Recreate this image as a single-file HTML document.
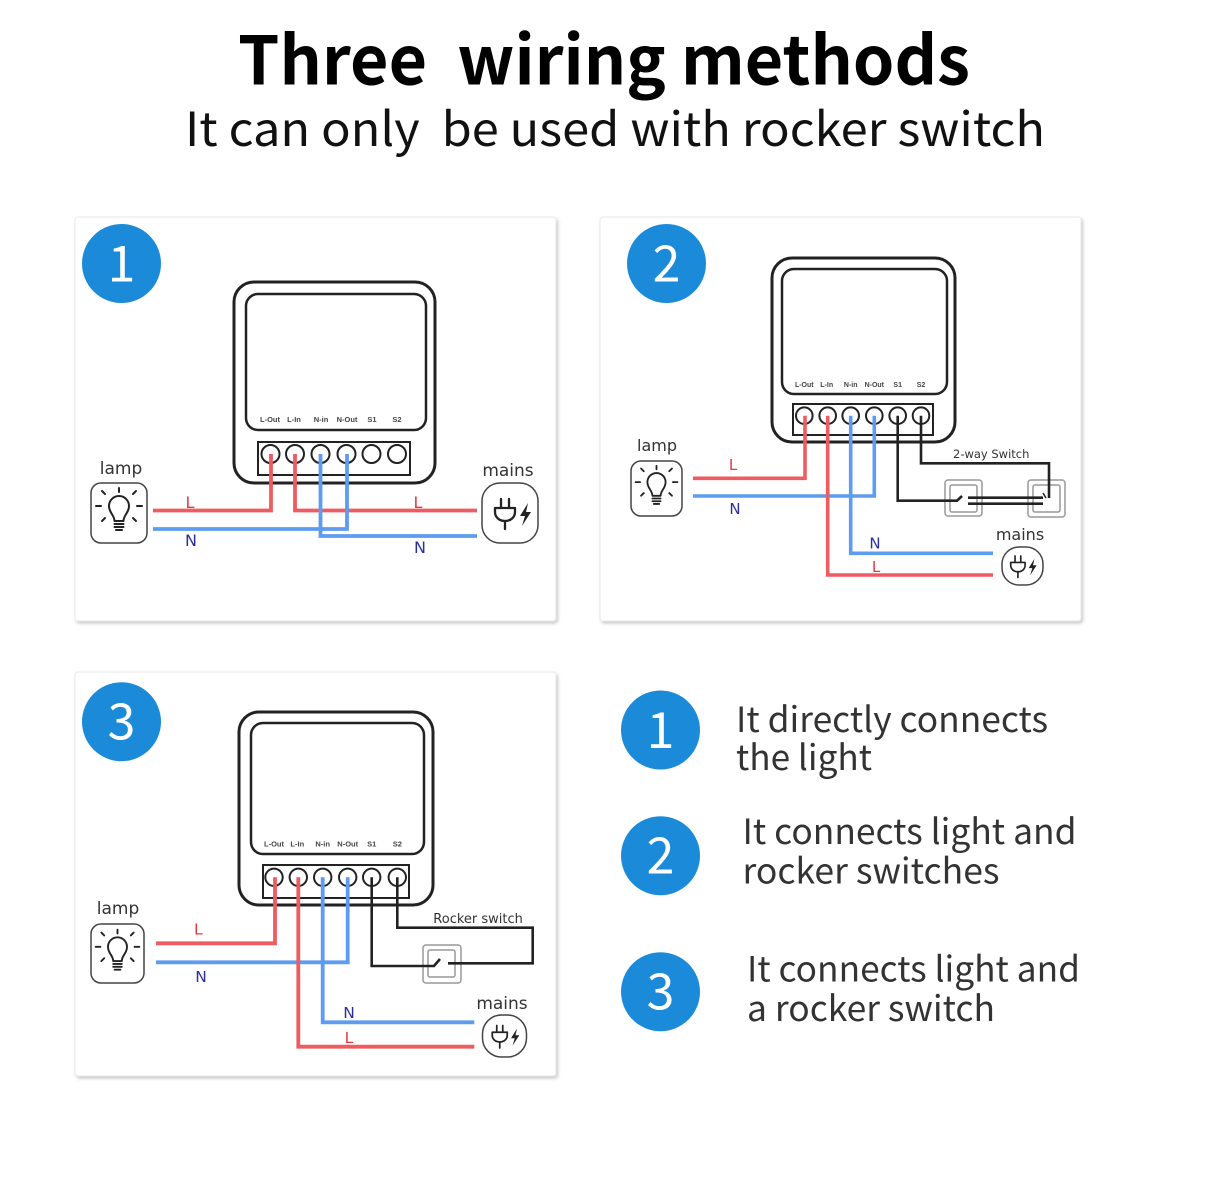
<!DOCTYPE html>
<html><head><meta charset="utf-8"><style>
html,body{margin:0;padding:0;background:#fff;}
svg{display:block;}
</style></head><body>
<svg width="1206" height="1177" viewBox="0 0 1206 1177" xmlns="http://www.w3.org/2000/svg">
<defs>
<filter id="sh" x="-5%" y="-5%" width="110%" height="110%">
<feDropShadow dx="1.5" dy="2" stdDeviation="1.5" flood-color="#000" flood-opacity="0.22"/>
</filter>
<g id="bulb" fill="none" stroke="#222" stroke-width="2" stroke-linecap="round" stroke-linejoin="round">
<path d="M-4.5,8 C-4.5,2 -10,0 -10,-7 A10,10 0 1 1 10,-7 C10,0 4.5,2 4.5,8 Z"/>
<line x1="-4.5" y1="11" x2="4.5" y2="11"/>
<line x1="-4.5" y1="14" x2="4.5" y2="14"/>
<line x1="-3" y1="17" x2="3" y2="17"/>
<line x1="0" y1="-25" x2="0" y2="-21"/>
<line x1="-23" y1="-7" x2="-18" y2="-7"/>
<line x1="18" y1="-7" x2="23" y2="-7"/>
<line x1="-17" y1="-22" x2="-14" y2="-19"/>
<line x1="17" y1="-22" x2="14" y2="-19"/>
<line x1="-17" y1="8" x2="-14" y2="5"/>
<line x1="17" y1="8" x2="14" y2="5"/>
</g>
<g id="plug">
<g fill="none" stroke="#222" stroke-width="2.3" stroke-linecap="round" stroke-linejoin="round">
<line x1="-9" y1="-14" x2="-9" y2="-5"/>
<line x1="-1" y1="-14" x2="-1" y2="-5"/>
<path d="M-15,-5 H5 V-1 C5,4 1,8 -5,8 C-11,8 -15,4 -15,-1 Z"/>
<line x1="-5" y1="8" x2="-5" y2="16"/>
</g>
<path d="M18,-10 L10,3 L15,3 L12,13 L21,-1 L16,-1 Z" fill="#222"/>
</g>
</defs>

<!-- Title -->
<text x="238" y="84.5" font-family="'Noto Sans CJK SC','Liberation Sans',sans-serif" font-weight="700" font-size="67" fill="#000" textLength="732" lengthAdjust="spacingAndGlyphs" xml:space="preserve">Three  wiring methods</text>
<text x="185" y="146" font-family="'Noto Sans CJK SC','Liberation Sans',sans-serif" font-weight="400" font-size="47" fill="#111" textLength="860" lengthAdjust="spacingAndGlyphs" xml:space="preserve">It can only  be used with rocker switch</text>

<!-- Cards -->
<rect x="75" y="217" width="481" height="404" rx="3" fill="#fff" stroke="#e9e9e9" stroke-width="1" filter="url(#sh)"/>
<rect x="600" y="217" width="481" height="404" rx="3" fill="#fff" stroke="#e9e9e9" stroke-width="1" filter="url(#sh)"/>
<rect x="75" y="672" width="481" height="404" rx="3" fill="#fff" stroke="#e9e9e9" stroke-width="1" filter="url(#sh)"/>

<g font-family="'Noto Sans CJK SC','Liberation Sans',sans-serif" fill="#fff" text-anchor="middle" font-size="50" font-weight="400">
<circle cx="121.5" cy="263.5" r="39.5" fill="#1b8bd9"/>
<text x="121.5" y="281.5">1</text>
<circle cx="666.5" cy="263.5" r="39.5" fill="#1b8bd9"/>
<text x="666.5" y="281.5">2</text>
<circle cx="121.5" cy="721.7" r="39.5" fill="#1b8bd9"/>
<text x="121.5" y="739.7">3</text>
</g>

<!-- ========== PANEL 1 ========== -->
<g fill="#fff" stroke="#222">
<rect x="234" y="282" width="201" height="201" rx="20" stroke-width="3"/>
<rect x="246" y="294" width="180" height="136" rx="12" stroke-width="2.5"/>
<rect x="258" y="442" width="152" height="33" stroke-width="2"/>
<g stroke-width="2">
<circle cx="270.5" cy="454" r="9"/><circle cx="295" cy="454" r="9"/><circle cx="320.5" cy="454" r="9"/>
<circle cx="346.5" cy="454" r="9"/><circle cx="371.5" cy="454" r="9"/><circle cx="397" cy="454" r="9"/>
</g>
</g>
<g font-family="'Liberation Sans',sans-serif" font-size="7.5" font-weight="700" fill="#444" text-anchor="middle">
<text x="270" y="422">L-Out</text><text x="294" y="422">L-In</text><text x="321" y="422">N-in</text>
<text x="347" y="422">N-Out</text><text x="372" y="422">S1</text><text x="397" y="422">S2</text>
</g>
<g fill="none" stroke-width="3.8">
<path d="M153,510.5 H271 V454" stroke="#ee5b60"/>
<path d="M295,454 V510.5 H477" stroke="#ee5b60"/>
<path d="M153,529 H347 V454" stroke="#5d9cf0"/>
<path d="M320.5,454 V536 H477" stroke="#5d9cf0"/>
</g>
<rect x="91" y="483" width="56" height="60" rx="10" fill="#fff" stroke="#444" stroke-width="1.5"/>
<use href="#bulb" transform="translate(119,513)"/>
<rect x="482" y="483" width="56" height="60" rx="18" fill="#fff" stroke="#444" stroke-width="1.5"/>
<use href="#plug" transform="translate(510,513)"/>
<g font-family="'DejaVu Sans','Liberation Sans',sans-serif" font-size="17" fill="#333" text-anchor="middle">
<text x="121" y="474">lamp</text>
<text x="508" y="476">mains</text>
</g>
<g font-family="'DejaVu Sans','Liberation Sans',sans-serif" font-size="16" text-anchor="middle">
<text x="190" y="508" fill="#e5383e">L</text>
<text x="418" y="508" fill="#e5383e">L</text>
<text x="191" y="546" fill="#2b2f9e">N</text>
<text x="420" y="553" fill="#2b2f9e">N</text>
</g>

<!-- ========== PANEL 2 ========== -->
<g fill="#fff" stroke="#222">
<rect x="772" y="258" width="183" height="184" rx="20" stroke-width="3"/>
<rect x="782" y="269" width="165" height="125" rx="12" stroke-width="2.5"/>
<rect x="793" y="404" width="140" height="31" stroke-width="2"/>
<g stroke-width="2">
<circle cx="804.3" cy="415.7" r="8.3"/><circle cx="827.7" cy="415.7" r="8.3"/><circle cx="850.7" cy="415.7" r="8.3"/>
<circle cx="874.3" cy="415.7" r="8.3"/><circle cx="897.7" cy="415.7" r="8.3"/><circle cx="921" cy="415.7" r="8.3"/>
</g>
</g>
<g font-family="'Liberation Sans',sans-serif" font-size="7" font-weight="700" fill="#444" text-anchor="middle">
<text x="804.3" y="387">L-Out</text><text x="826.7" y="387">L-In</text><text x="850.7" y="387">N-in</text>
<text x="874.3" y="387">N-Out</text><text x="897.7" y="387">S1</text><text x="921" y="387">S2</text>
</g>
<g fill="none" stroke-width="3.6">
<path d="M693,478.3 H805 V415.7" stroke="#ee5b60"/>
<path d="M693,496 H874.3 V415.7" stroke="#5d9cf0"/>
<path d="M827.7,415.7 V575 H993" stroke="#ee5b60"/>
<path d="M850.7,415.7 V553.3 H993" stroke="#5d9cf0"/>
</g>
<!-- switches -->
<g fill="#fff" stroke="#999" stroke-width="1.5">
<rect x="945" y="480" width="37" height="36" rx="3"/>
<rect x="950" y="485" width="27" height="27" rx="2"/>
<rect x="1028" y="480" width="37" height="37" rx="3"/>
<rect x="1033" y="485" width="27" height="27" rx="2"/>
</g>
<g fill="none" stroke="#222" stroke-width="2.6">
<path d="M897.7,415.7 V500.7 H957 L962,496"/>
<path d="M921,415.7 V463.3 H1049 V498"/>
<path d="M968,497.7 H1043"/>
<path d="M968,503.7 H1043"/>
<path d="M1043,493 L1046,498" stroke-width="1.5"/>
</g>
<text x="953" y="458" font-family="'DejaVu Sans','Liberation Sans',sans-serif" font-size="11.5" fill="#333">2-way Switch</text>
<rect x="631" y="461" width="51" height="55" rx="10" fill="#fff" stroke="#444" stroke-width="1.5"/>
<use href="#bulb" transform="translate(656.5,488.5) scale(0.91)"/>
<rect x="1002" y="547" width="41" height="38" rx="17" fill="#fff" stroke="#444" stroke-width="1.5"/>
<use href="#plug" transform="translate(1021.5,566) scale(0.72)"/>
<g font-family="'DejaVu Sans','Liberation Sans',sans-serif" font-size="16" fill="#333" text-anchor="middle">
<text x="657" y="451">lamp</text>
<text x="1020" y="540">mains</text>
</g>
<g font-family="'DejaVu Sans','Liberation Sans',sans-serif" font-size="15" text-anchor="middle">
<text x="733" y="470" fill="#e5383e">L</text>
<text x="735" y="514" fill="#2b2f9e">N</text>
<text x="875" y="548.5" fill="#2b2f9e">N</text>
<text x="876" y="572" fill="#e5383e">L</text>
</g>

<!-- ========== PANEL 3 ========== -->
<g fill="#fff" stroke="#222">
<rect x="239" y="712" width="194" height="193" rx="20" stroke-width="3"/>
<rect x="251" y="723" width="173" height="131" rx="12" stroke-width="2.5"/>
<rect x="263" y="865" width="146" height="33" stroke-width="2"/>
<g stroke-width="2">
<circle cx="274" cy="877.3" r="8.7"/><circle cx="298.3" cy="877.3" r="8.7"/><circle cx="322.7" cy="877.3" r="8.7"/>
<circle cx="347.7" cy="877.3" r="8.7"/><circle cx="371.7" cy="877.3" r="8.7"/><circle cx="397.3" cy="877.3" r="8.7"/>
</g>
</g>
<g font-family="'Liberation Sans',sans-serif" font-size="7.5" font-weight="700" fill="#444" text-anchor="middle">
<text x="274" y="846.5">L-Out</text><text x="297.3" y="846.5">L-In</text><text x="322.7" y="846.5">N-in</text>
<text x="347.7" y="846.5">N-Out</text><text x="371.7" y="846.5">S1</text><text x="397.3" y="846.5">S2</text>
</g>
<g fill="none" stroke-width="3.8">
<path d="M156,943.3 H275 V877.3" stroke="#ee5b60"/>
<path d="M156,962.3 H347.7 V877.3" stroke="#5d9cf0"/>
<path d="M298.3,877.3 V1046.7 H474.3" stroke="#ee5b60"/>
<path d="M322.7,877.3 V1022.3 H474.3" stroke="#5d9cf0"/>
</g>
<g fill="#fff" stroke="#999" stroke-width="1.5">
<rect x="423" y="945" width="38" height="38" rx="3"/>
<rect x="428" y="950" width="27" height="27" rx="2"/>
</g>
<g fill="none" stroke="#222" stroke-width="2.6">
<path d="M371.7,877.3 V966 H434 L440,959"/>
<path d="M397.3,877.3 V927.7 H532.7 V963.3 H448"/>
</g>
<text x="433.3" y="923" font-family="'DejaVu Sans','Liberation Sans',sans-serif" font-size="13" fill="#333">Rocker switch</text>
<rect x="91" y="924" width="53" height="59" rx="10" fill="#fff" stroke="#444" stroke-width="1.5"/>
<use href="#bulb" transform="translate(117.5,953.5) scale(0.95)"/>
<rect x="482.5" y="1015" width="44" height="42" rx="19" fill="#fff" stroke="#444" stroke-width="1.5"/>
<use href="#plug" transform="translate(503.5,1036) scale(0.75)"/>
<g font-family="'DejaVu Sans','Liberation Sans',sans-serif" font-size="17" fill="#333" text-anchor="middle">
<text x="118" y="914">lamp</text>
<text x="502" y="1009">mains</text>
</g>
<g font-family="'DejaVu Sans','Liberation Sans',sans-serif" font-size="15.5" text-anchor="middle">
<text x="198.3" y="934.5" fill="#e5383e">L</text>
<text x="201" y="982" fill="#2b2f9e">N</text>
<text x="349" y="1018" fill="#2b2f9e">N</text>
<text x="349" y="1043" fill="#e5383e">L</text>
</g>

<!-- ========== Legend ========== -->
<g font-family="'Noto Sans CJK SC','Liberation Sans',sans-serif" fill="#fff" text-anchor="middle" font-size="50" font-weight="400">
<circle cx="660.5" cy="730" r="39.5" fill="#1b8bd9"/>
<text x="660.5" y="748">1</text>
<circle cx="660.5" cy="855.7" r="39.5" fill="#1b8bd9"/>
<text x="660.5" y="873.7">2</text>
<circle cx="660.5" cy="991.7" r="39.5" fill="#1b8bd9"/>
<text x="660.5" y="1009.7">3</text>
</g>
<g font-family="'Noto Sans CJK SC','Liberation Sans',sans-serif" font-size="35" fill="#333" font-weight="400">
<text x="736" y="732" textLength="312" lengthAdjust="spacingAndGlyphs">It directly connects</text>
<text x="736" y="770" textLength="136" lengthAdjust="spacingAndGlyphs">the light</text>
<text x="742.5" y="844" textLength="334" lengthAdjust="spacingAndGlyphs">It connects light and</text>
<text x="742.5" y="883.3" textLength="257" lengthAdjust="spacingAndGlyphs">rocker switches</text>
<text x="747" y="981.7" textLength="333" lengthAdjust="spacingAndGlyphs">It connects light and</text>
<text x="747" y="1021" textLength="248" lengthAdjust="spacingAndGlyphs">a rocker switch</text>
</g>
</svg>
</body></html>
